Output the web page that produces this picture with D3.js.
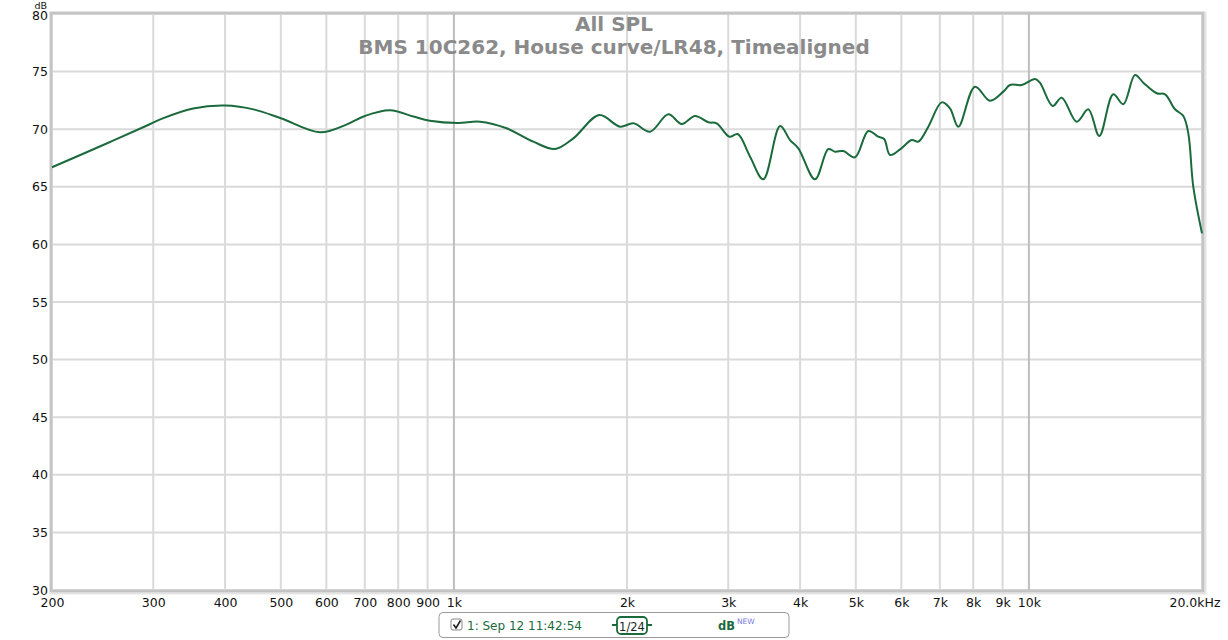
<!DOCTYPE html>
<html><head><meta charset="utf-8">
<script src="https://cdn.jsdelivr.net/npm/d3@7"></script>
<style>html,body{margin:0;padding:0;background:#fff;}svg{display:block;}</style>
</head><body>
<svg id="c" width="1228" height="640"></svg>
<script>
const freqs = [200,250,292,310,352,400,450,500,585,650,700,774,850,908,1016,1110,1235,1374,1499,1613,1790,1944,2052,2193,2360,2490,2626,2770,2864,3013,3116,3274,3452,3692,3842,3972,4246,4478,4600,4756,4984,5256,5470,5600,5735,5970,6254,6422,6684,7053,7290,7538,8058,8557,9025,9272,9716,10250,10450,11000,11403,12108,12686,13256,14018,14593,15292,15813,16684,17250,17950,18556,18933,19314,20000];
const spl = [66.7,68.8,70.3,70.9,71.8,72.05,71.7,70.95,69.73,70.4,71.15,71.64,71.1,70.74,70.54,70.65,70.08,68.92,68.28,69.2,71.23,70.22,70.51,69.78,71.29,70.45,71.15,70.6,70.51,69.35,69.58,67.61,65.65,70.28,69.06,68.34,65.65,68.28,68.05,68.1,67.56,69.84,69.35,69.15,67.76,68.25,69.06,68.92,70.22,72.33,71.81,70.22,73.69,72.47,73.26,73.84,73.84,74.36,74.04,72.01,72.74,70.65,71.73,69.41,73.03,72.16,74.7,74.04,73.12,73.03,71.73,71.15,69.64,65.01,60.96];
const xTicks = [200,300,400,500,600,700,800,900,1000,2000,3000,4000,5000,6000,7000,8000,9000,10000,20000];
const xTickLabels = ["200","300","400","500","600","700","800","900","1k","2k","3k","4k","5k","6k","7k","8k","9k","10k","20.0kHz"];
const majorX = [1000,10000];
const yTicks = [30,35,40,45,50,55,60,65,70,75,80];
const title = "All SPL";
const subtitle = "BMS 10C262, House curve/LR48, Timealigned";
const legendLabel = "1: Sep 12 11:42:54";

const svg = d3.select("#c");
const L = 52, R = 1202, T = 14, B = 590;
const x = d3.scaleLog().domain([200,20000]).range([L,R]);
const y = d3.scaleLinear().domain([30,80]).range([B,T]);
const font = "'DejaVu Sans', Verdana, sans-serif";

// frame shadow
svg.append("rect").attr("x",L-1).attr("y",T-1).attr("width",R-L+4).attr("height",B-T+4)
  .attr("fill","none").attr("stroke","#e4e4e4").attr("stroke-width",3);

// grid
svg.append("g").selectAll("line").data(yTicks).join("line")
  .attr("x1",L).attr("x2",R).attr("y1",d=>y(d)).attr("y2",d=>y(d))
  .attr("stroke","#dadada").attr("stroke-width",2);
svg.append("g").selectAll("line").data(xTicks).join("line")
  .attr("x1",d=>x(d)).attr("x2",d=>x(d)).attr("y1",T).attr("y2",B)
  .attr("stroke",d=>majorX.includes(d)?"#bdbdbd":"#dadada").attr("stroke-width",2);

// frame
svg.append("rect").attr("x",L-1).attr("y",T-1).attr("width",R-L+2).attr("height",B-T+2)
  .attr("fill","none").attr("stroke","#c4c4c4").attr("stroke-width",2.5);

// y axis labels
const ya = svg.append("g").attr("transform",`translate(${L-4},0)`)
  .call(d3.axisLeft(y).tickValues(yTicks).tickSize(0).tickPadding(0));
ya.select(".domain").remove();
ya.selectAll("text").attr("font-family",font).attr("font-size",12.5).attr("fill","#111")
  .attr("dy",d=>d===80?"0.45em":"0.32em");
svg.append("text").attr("x",L-5).attr("y",8.5).attr("text-anchor","end")
  .attr("font-family",font).attr("font-size",9.5).attr("fill","#111").text("dB");

// x axis labels
const xa = svg.append("g").attr("transform",`translate(0,${B+6})`)
  .call(d3.axisBottom(x).tickValues(xTicks).tickFormat((d,i)=>xTickLabels[i]).tickSize(0).tickPadding(0));
xa.select(".domain").remove();
xa.selectAll("text").attr("font-family",font).attr("font-size",12.5).attr("fill","#111")
  .attr("dy","0.9em")
  .attr("text-anchor",(d)=>d===20000?"end":"middle")
  .attr("dx",(d)=>d===20000?"18":"0");

// titles
svg.append("text").attr("x",614).attr("y",31).attr("text-anchor","middle")
  .attr("font-family",font).attr("font-weight","bold").attr("font-size",20).attr("fill","#8a8a8a").text(title);
svg.append("text").attr("x",614).attr("y",54).attr("text-anchor","middle")
  .attr("font-family",font).attr("font-weight","bold").attr("font-size",20).attr("fill","#8a8a8a").text(subtitle);

// curve
const pts = freqs.map((f,i)=>[f,spl[i]]);
const line = d3.line().x(d=>x(d[0])).y(d=>y(d[1])).curve(d3.curveCatmullRom.alpha(0.5));
svg.append("path").datum(pts).attr("d",line).attr("fill","none")
  .attr("stroke","#1b6a3c").attr("stroke-width",2).attr("stroke-linejoin","round");

// legend
const lg = svg.append("g");
lg.append("rect").attr("x",439).attr("y",612.5).attr("width",350).attr("height",25).attr("rx",4)
  .attr("fill","#fff").attr("stroke","#9a9a9a").attr("stroke-width",1);
lg.append("rect").attr("x",451).attr("y",619).attr("width",11).attr("height",11).attr("rx",2)
  .attr("fill","#fff").attr("stroke","#888");
lg.append("path").attr("d","M453.5,624.5 L456,628 L460.5,620.5").attr("fill","none").attr("stroke","#222").attr("stroke-width",1.6);
lg.append("text").attr("x",467).attr("y",629.5).attr("font-family",font).attr("font-size",12)
  .attr("fill","#1b6a3c").text(legendLabel);
lg.append("line").attr("x1",612).attr("x2",652).attr("y1",625).attr("y2",625).attr("stroke","#1b6a3c").attr("stroke-width",2);
lg.append("rect").attr("x",617).attr("y",617).attr("width",30).attr("height",17).attr("rx",4)
  .attr("fill","#fff").attr("stroke","#1b6a3c").attr("stroke-width",1.8);
lg.append("text").attr("x",632).attr("y",630.5).attr("text-anchor","middle").attr("font-family",font).attr("font-size",11.5)
  .attr("fill","#222").text("1/24");
lg.append("text").attr("x",718).attr("y",629.5).attr("font-family",font).attr("font-weight","bold").attr("font-size",11.5)
  .attr("fill","#1b6a3c").text("dB");
lg.append("text").attr("x",737).attr("y",624).attr("font-family",font).attr("font-size",7.5)
  .attr("fill","#7a7ae0").text("NEW");
</script>
</body></html>
